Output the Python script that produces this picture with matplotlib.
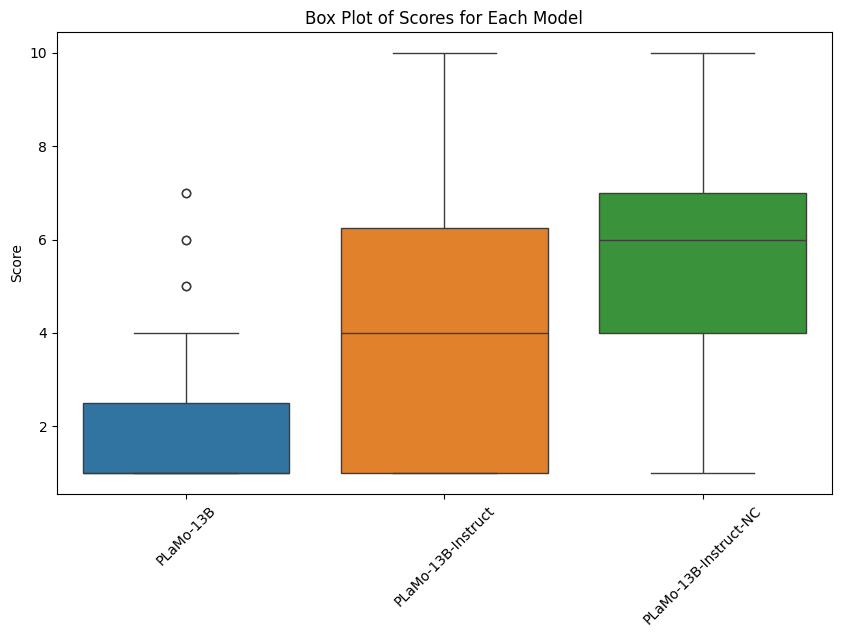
import pandas as pd
import matplotlib
matplotlib.use("Agg")
import matplotlib.pyplot as plt
import seaborn as sns

# Scores per model
models = ["PLaMo-13B", "PLaMo-13B-Instruct", "PLaMo-13B-Instruct-NC"]
scores_13b = [1] * 20 + [4, 5, 5, 6, 6, 7, 7]
scores_instruct = [1, 1, 1, 1, 1, 1, 2, 3, 3, 4, 4, 5, 5, 6, 6, 7, 8, 8, 9, 10]
scores_instruct_nc = [1, 2, 3, 4, 4, 4, 5, 5, 6, 6, 6, 6, 7, 7, 7, 7, 8, 9, 9, 10]

df = pd.DataFrame({
    "Model": [models[0]] * len(scores_13b)
             + [models[1]] * len(scores_instruct)
             + [models[2]] * len(scores_instruct_nc),
    "Score": scores_13b + scores_instruct + scores_instruct_nc,
})

fig = plt.figure(figsize=(8.41, 6.37), dpi=100)
ax = fig.add_axes([0.0678, 0.2245, 0.9212, 0.7253])
sns.boxplot(data=df, x="Model", y="Score", hue="Model", ax=ax)
ax.set_title("Box Plot of Scores for Each Model")
ax.set_xlabel("")
ax.set_ylabel("Score")
plt.setp(ax.get_xticklabels(), rotation=45)

fig.savefig("out.png", dpi=100)
